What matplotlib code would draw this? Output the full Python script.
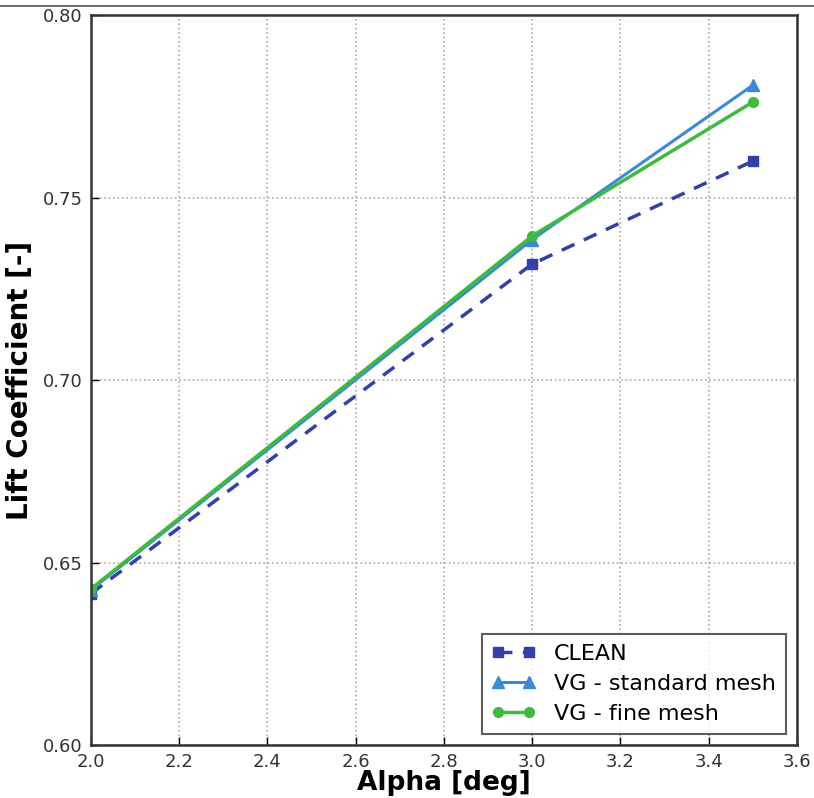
import matplotlib
matplotlib.use("Agg")
import matplotlib.pyplot as plt
from matplotlib.lines import Line2D

alpha = [2.0, 3.0, 3.5]
clean = [0.6415, 0.7318, 0.7600]
vg_standard = [0.6425, 0.7385, 0.7808]
vg_fine = [0.6428, 0.7395, 0.7762]
xticks = [2.0, 2.2, 2.4, 2.6, 2.8, 3.0, 3.2, 3.4, 3.6]
yticks = [0.60, 0.65, 0.70, 0.75, 0.80]

fig = plt.figure(figsize=(8.14, 7.98), dpi=100)
ax = fig.add_axes([0.1118, 0.0664, 0.8672, 0.9146])

ax.plot(alpha, clean, color="#3340a8", ls="--", lw=2.5, marker="s", ms=7,
        dashes=(4, 3), label="CLEAN")
ax.plot(alpha, vg_standard, color="#3a8ad6", lw=2.2, marker="^", ms=8,
        label="VG - standard mesh")
ax.plot(alpha, vg_fine, color="#3dbb3d", lw=2.5, marker="o", ms=7,
        label="VG - fine mesh")

ax.set_xlim(2.0, 3.6)
ax.set_ylim(0.60, 0.80)
ax.set_xticks(xticks)
ax.set_yticks(yticks)
ax.set_xticklabels([f"{v:.1f}" for v in xticks], fontsize=13, color="#333333")
ax.set_yticklabels([f"{v:.2f}" for v in yticks], fontsize=13, color="#333333")
ax.grid(True, ls=":", color="#aaaaaa", lw=1.2)
for s in ax.spines.values():
    s.set_linewidth(1.8)
    s.set_color("#333333")
ax.tick_params(direction="in", length=6, width=1)
ax.tick_params(axis="x", pad=6)
ax.tick_params(axis="y", pad=6)
ax.set_xlabel("Alpha [deg]", fontsize=19, fontweight="bold", labelpad=-1)
ax.set_ylabel("Lift Coefficient [-]", fontsize=20, fontweight="bold", labelpad=6)

leg = ax.legend(loc="lower right", fontsize=16, frameon=True, fancybox=False,
                numpoints=2, handlelength=2.0, handletextpad=0.8,
                borderpad=0.45, labelspacing=0.45, borderaxespad=0.5)
leg.get_frame().set_edgecolor("#333333")
leg.get_frame().set_linewidth(1.5)

fig.add_artist(Line2D([0, 1], [0.993, 0.993], color="#555555", lw=1.2, transform=fig.transFigure))

fig.savefig("out.png", dpi=100)
